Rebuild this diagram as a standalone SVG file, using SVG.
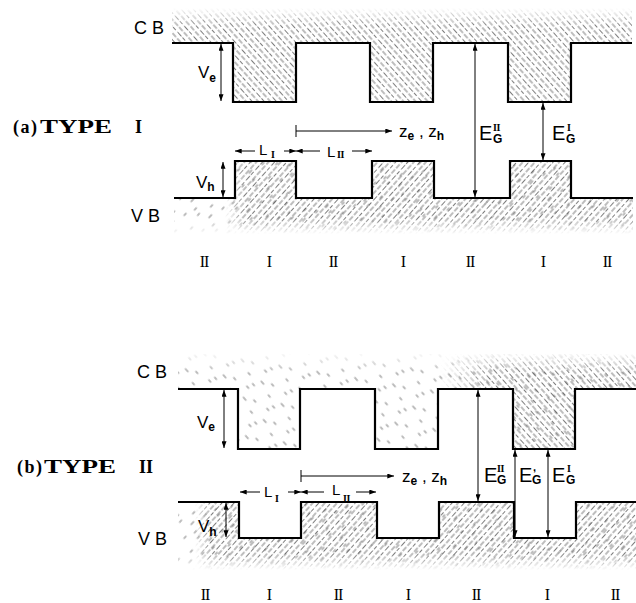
<svg xmlns="http://www.w3.org/2000/svg" width="636" height="603" viewBox="0 0 636 603">
<style>
.prof{fill:none;stroke:#000;stroke-width:2.2;stroke-linejoin:miter}
.thin{fill:none;stroke:#000;stroke-width:1}
.sans{font-family:"Liberation Sans",Arial,sans-serif;fill:#000}
.lbl{font-size:17px}
.sub{font-size:12px;font-weight:bold}
.title{font-family:"Liberation Serif","Times New Roman",serif;font-weight:bold;font-size:18px;fill:#000}
.rom{font-family:"Liberation Serif","Times New Roman",serif;font-size:16px;fill:#000;text-anchor:middle;letter-spacing:-1px}
.romsm{font-family:"Liberation Serif","Times New Roman",serif;font-size:10px;font-weight:bold;fill:#000;letter-spacing:-0.5px}
.hd{stroke:#5a5a5a;stroke-width:0.8;stroke-linecap:round}
</style>
<defs>
<pattern id="hcb" width="14" height="9" patternUnits="userSpaceOnUse" patternTransform="rotate(48)">
<path class="hd" d="M0,2 H5 M7.5,2 H12 M3,6.5 H8 M10.5,6.5 H14"/>
</pattern>
<pattern id="hvb" width="14" height="9" patternUnits="userSpaceOnUse" patternTransform="rotate(-48)">
<path class="hd" d="M0,2 H5 M7.5,2 H12 M3,6.5 H8 M10.5,6.5 H14"/>
</pattern>
<pattern id="hcbs" width="30" height="24" patternUnits="userSpaceOnUse" patternTransform="rotate(48)">
<path class="hd" d="M2,3 H5 M17,7 H20 M8,13 H12 M23,17 H26 M4,21 H7"/>
</pattern>
<pattern id="hvbs" width="30" height="24" patternUnits="userSpaceOnUse" patternTransform="rotate(-48)">
<path class="hd" d="M2,3 H5 M17,7 H20 M8,13 H12 M23,17 H26 M4,21 H7"/>
</pattern>
<path id="a-cb-area" d="M172,8 L632,8 L632,43 L571,43 L571,102 L508,102 L508,43 L433,43 L433,102 L370,102 L370,43 L296,43 L296,102 L233,102 L233,43 L172,43 Z"/>
<path id="a-vb-area" d="M174,198 L235,198 L235,161 L296,161 L296,198 L372,198 L372,161 L434,161 L434,198 L510,198 L510,161 L571,161 L571,198 L633,198 L633,234 L174,234 Z"/>
<path id="b-cb-area" d="M178,354 L636,354 L636,389 L575,389 L575,449 L513,449 L513,389 L438,389 L438,449 L375,449 L375,389 L300,389 L300,449 L238,449 L238,389 L178,389 Z"/>
<path id="b-vb-area" d="M178,502 L239,502 L239,538 L301,538 L301,502 L377,502 L377,538 L439,538 L439,502 L514,502 L514,538 L576,538 L576,502 L636,502 L636,570 L178,570 Z"/>
<linearGradient id="fadeTopA" gradientUnits="userSpaceOnUse" x1="0" y1="8" x2="0" y2="26">
<stop offset="0" stop-color="#000"/><stop offset="1" stop-color="#fff"/>
</linearGradient>
<linearGradient id="fadeTopB" gradientUnits="userSpaceOnUse" x1="0" y1="352" x2="0" y2="372">
<stop offset="0" stop-color="#000"/><stop offset="1" stop-color="#fff"/>
</linearGradient>
<linearGradient id="fadeBotA" gradientUnits="userSpaceOnUse" x1="0" y1="218" x2="0" y2="234">
<stop offset="0" stop-color="#fff"/><stop offset="1" stop-color="#000"/>
</linearGradient>
<linearGradient id="fadeBotB" gradientUnits="userSpaceOnUse" x1="0" y1="554" x2="0" y2="570">
<stop offset="0" stop-color="#fff"/><stop offset="1" stop-color="#000"/>
</linearGradient>
<linearGradient id="densB" gradientUnits="userSpaceOnUse" x1="440" y1="0" x2="490" y2="0">
<stop offset="0" stop-color="#000"/><stop offset="1" stop-color="#fff"/>
</linearGradient>
<linearGradient id="densVA" gradientUnits="userSpaceOnUse" x1="225" y1="0" x2="245" y2="0">
<stop offset="0" stop-color="#000"/><stop offset="1" stop-color="#fff"/>
</linearGradient>
<linearGradient id="densVB" gradientUnits="userSpaceOnUse" x1="195" y1="0" x2="210" y2="0">
<stop offset="0" stop-color="#000"/><stop offset="1" stop-color="#fff"/>
</linearGradient>
<mask id="mTopA"><rect x="0" y="0" width="636" height="300" fill="url(#fadeTopA)"/></mask>
<mask id="mTopB"><rect x="0" y="300" width="636" height="303" fill="url(#fadeTopB)"/></mask>
<mask id="mBotA"><rect x="0" y="0" width="636" height="300" fill="url(#fadeBotA)"/></mask>
<mask id="mBotB"><rect x="0" y="300" width="636" height="303" fill="url(#fadeBotB)"/></mask>
<mask id="mDensB"><rect x="0" y="300" width="636" height="303" fill="url(#densB)"/></mask>
<mask id="mDensVA"><rect x="0" y="0" width="636" height="300" fill="url(#densVA)"/></mask>
<mask id="mDensVB"><rect x="0" y="300" width="636" height="303" fill="url(#densVB)"/></mask>
<marker id="ah" viewBox="0 0 8 6" refX="8" refY="3" markerWidth="7" markerHeight="5" markerUnits="userSpaceOnUse" orient="auto-start-reverse">
<path d="M0,0 L8,3 L0,6 Z" fill="#000"/>
</marker>
</defs>

<g id="panel-a">
<g id="a-cb-hatch" mask="url(#mTopA)">
<use href="#a-cb-area" fill="url(#hcb)"/>
</g>
<g id="a-vb-hatch" mask="url(#mBotA)">
<use href="#a-vb-area" fill="url(#hvbs)"/>
<g mask="url(#mDensVA)"><use href="#a-vb-area" fill="url(#hvb)"/></g>
</g>
<path id="a-cb" class="prof" d="M172,43 L233,43 L233,102 L296,102 L296,43 L370,43 L370,102 L433,102 L433,43 L508,43 L508,102 L571,102 L571,43 L632,43"/>
<path id="a-vb" class="prof" d="M174,198 L235,198 L235,161 L296,161 L296,198 L372,198 L372,161 L434,161 L434,198 L510,198 L510,161 L571,161 L571,198 L633,198"/>
<text class="sans" x="134" y="34" font-size="18">C B</text>
<text class="sans" x="131" y="222" font-size="18">V B</text>
<text class="title" x="13" y="133" letter-spacing="1.5">(a)</text>
<text class="title" x="40" y="133" textLength="72" lengthAdjust="spacingAndGlyphs">TYPE</text>
<text class="title" x="135" y="133">I</text>
<text class="sans lbl" x="198" y="78">V<tspan class="sub" dy="4">e</tspan></text>
<text class="sans lbl" x="196" y="188">V<tspan class="sub" dy="3">h</tspan></text>
<text class="sans" x="259" y="155" font-size="15">L</text><text class="romsm" x="271" y="158">I</text>
<text class="sans" x="327" y="157" font-size="15">L</text><text class="romsm" x="337" y="158">II</text>
<text class="sans" x="399" y="137" font-size="17">z<tspan class="sub" dy="3">e</tspan><tspan dy="-3"> , z</tspan><tspan class="sub" dy="3">h</tspan></text>
<text class="sans" x="479" y="140" font-size="20">E</text><text class="romsm" x="493" y="131">II</text><text class="sans sub" x="493" y="143">G</text>
<text class="sans" x="552" y="140" font-size="20">E</text><text class="romsm" x="567" y="131">I</text><text class="sans sub" x="566" y="143">G</text>
<g id="a-labels">
<text class="rom" x="204" y="267">II</text>
<text class="rom" x="269" y="267">I</text>
<text class="rom" x="333" y="267">II</text>
<text class="rom" x="403" y="267">I</text>
<text class="rom" x="470" y="267">II</text>
<text class="rom" x="543" y="267">I</text>
<text class="rom" x="607" y="267">II</text>
</g>
</g>

<g id="panel-b">
<g id="b-cb-hatch" mask="url(#mTopB)">
<use href="#b-cb-area" fill="url(#hcbs)"/>
<g mask="url(#mDensB)"><use href="#b-cb-area" fill="url(#hcb)"/></g>
</g>
<g id="b-vb-hatch" mask="url(#mBotB)">
<use href="#b-vb-area" fill="url(#hvbs)"/>
<g mask="url(#mDensVB)"><use href="#b-vb-area" fill="url(#hvb)"/></g>
</g>
<path id="b-cb" class="prof" d="M178,389 L238,389 L238,449 L300,449 L300,389 L375,389 L375,449 L438,449 L438,389 L513,389 L513,449 L575,449 L575,389 L636,389"/>
<path id="b-vb" class="prof" d="M178,502 L239,502 L239,538 L301,538 L301,502 L377,502 L377,538 L439,538 L439,502 L514,502 L514,538 L576,538 L576,502 L636,502"/>
<text class="sans" x="137" y="378" font-size="18">C B</text>
<text class="sans" x="138" y="545" font-size="18">V B</text>
<text class="title" x="17" y="473" letter-spacing="1.5">(b)</text>
<text class="title" x="44" y="473" textLength="72" lengthAdjust="spacingAndGlyphs">TYPE</text>
<text class="title" x="139" y="473">II</text>
<text class="sans lbl" x="197" y="428">V<tspan class="sub" dy="3">e</tspan></text>
<text class="sans lbl" x="198" y="532">V<tspan class="sub" dy="4">h</tspan></text>
<text class="sans" x="264" y="497" font-size="15">L</text><text class="romsm" x="275" y="502">I</text>
<text class="sans" x="332" y="495" font-size="15">L</text><text class="romsm" x="343" y="502">II</text>
<text class="sans" x="402" y="482" font-size="17">z<tspan class="sub" dy="3">e</tspan><tspan dy="-3"> , z</tspan><tspan class="sub" dy="3">h</tspan></text>
<text class="sans" x="484" y="482" font-size="20">E</text><text class="romsm" x="497" y="472">II</text><text class="sans sub" x="497" y="484">G</text>
<text class="sans" x="519" y="482" font-size="20">E</text><text class="sans" x="533" y="471" font-size="11" font-weight="bold">,</text><text class="sans sub" x="532" y="484">G</text>
<text class="sans" x="552" y="482" font-size="20">E</text><text class="romsm" x="567" y="472">I</text><text class="sans sub" x="566" y="484">G</text>
<g id="b-labels">
<text class="rom" x="205" y="600">II</text>
<text class="rom" x="269" y="600">I</text>
<text class="rom" x="338" y="600">II</text>
<text class="rom" x="408" y="600">I</text>
<text class="rom" x="476" y="600">II</text>
<text class="rom" x="547" y="600">I</text>
<text class="rom" x="615" y="600">II</text>
</g>
</g>

<g id="connectors">
<line class="thin" x1="221" y1="44" x2="221" y2="101" marker-start="url(#ah)" marker-end="url(#ah)"/>
<line class="thin" x1="223" y1="162" x2="223" y2="197" marker-start="url(#ah)" marker-end="url(#ah)"/>
<line class="thin" x1="296" y1="125" x2="296" y2="137"/>
<line class="thin" x1="296" y1="131" x2="392" y2="131" marker-end="url(#ah)"/>
<line class="thin" x1="255" y1="151" x2="235" y2="151" marker-end="url(#ah)"/>
<line class="thin" x1="284" y1="151" x2="296" y2="151" marker-end="url(#ah)"/>
<line class="thin" x1="320" y1="151" x2="296" y2="151" marker-end="url(#ah)"/>
<line class="thin" x1="352" y1="151" x2="372" y2="151" marker-end="url(#ah)"/>
<line class="thin" x1="475" y1="44" x2="475" y2="197" marker-start="url(#ah)" marker-end="url(#ah)"/>
<line class="thin" x1="543" y1="103" x2="543" y2="160" marker-start="url(#ah)" marker-end="url(#ah)"/>

<line class="thin" x1="224" y1="390" x2="224" y2="448" marker-start="url(#ah)" marker-end="url(#ah)"/>
<line class="thin" x1="226" y1="503" x2="226" y2="537" marker-start="url(#ah)" marker-end="url(#ah)"/>
<line class="thin" x1="301" y1="470" x2="301" y2="482"/>
<line class="thin" x1="301" y1="476" x2="394" y2="476" marker-end="url(#ah)"/>
<line class="thin" x1="260" y1="492" x2="240" y2="492" marker-end="url(#ah)"/>
<line class="thin" x1="288" y1="492" x2="301" y2="492" marker-end="url(#ah)"/>
<line class="thin" x1="324" y1="492" x2="301" y2="492" marker-end="url(#ah)"/>
<line class="thin" x1="356" y1="492" x2="376" y2="492" marker-end="url(#ah)"/>
<line class="thin" x1="478" y1="390" x2="478" y2="501" marker-start="url(#ah)" marker-end="url(#ah)"/>
<line class="thin" x1="515" y1="450" x2="515" y2="537" marker-start="url(#ah)" marker-end="url(#ah)"/>
<line class="thin" x1="548" y1="450" x2="548" y2="537" marker-start="url(#ah)" marker-end="url(#ah)"/>
</g>
</svg>
